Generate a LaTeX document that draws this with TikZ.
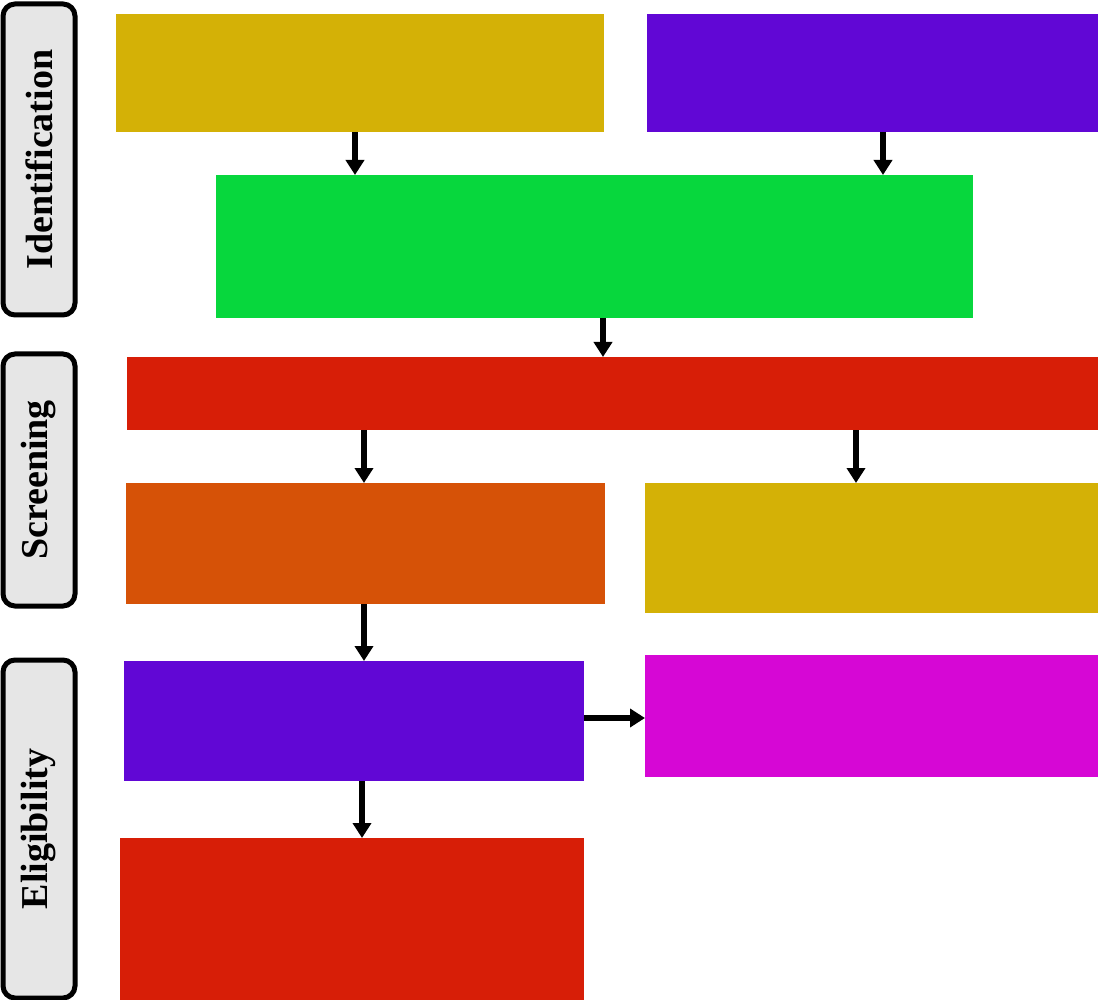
\documentclass[tikz,border=0pt]{standalone}
\usepackage{fontspec}
\setmainfont{Liberation Serif}
\usetikzlibrary{arrows.meta}
\definecolor{cyel}{HTML}{D4B106}
\definecolor{cpur}{HTML}{6107D5}
\definecolor{cgrn}{HTML}{07D73D}
\definecolor{cred}{HTML}{D71E07}
\definecolor{corg}{HTML}{D65207}
\definecolor{cmag}{HTML}{D607D5}
\definecolor{cgry}{HTML}{E6E6E6}
\tikzset{
  box/.style={anchor=north west, inner sep=0pt, outer sep=0pt, draw=none},
  phase/.style={anchor=north west, inner sep=0pt, outer sep=0pt, draw=black, line width=5pt, fill=cgry, rounded corners=12pt},
  phasetext/.style={rotate=90, font=\fontsize{38}{40}\selectfont\bfseries, inner sep=0pt},
  arr/.style={line width=5.5pt, -{Triangle[length=15pt,width=18pt]}}
}
\begin{document}
\begin{tikzpicture}[x=1pt,y=-1pt]
\useasboundingbox (0,0) rectangle (1098,1000);
% phase labels
\node[phase, minimum width=72pt, minimum height=311pt] (pid) at (3,4) {};
\node[phasetext] (tid) at (pid.center) {Identification};
\node[phase, minimum width=72pt, minimum height=252pt] (psc) at (3,354) {};
\node[phasetext] (tsc) at (psc.center) {Screening};
\node[phase, minimum width=72pt, minimum height=338pt] (pel) at (3,660) {};
\node[phasetext] (tel) at (pel.center) {Eligibility};
% boxes
\node[box, fill=cyel, minimum width=488pt, minimum height=118pt] (y1) at (116,14) {};
\node[box, fill=cpur, minimum width=451pt, minimum height=118pt] (p1) at (647,14) {};
\node[box, fill=cgrn, minimum width=757pt, minimum height=143pt] (g) at (216,175) {};
\node[box, fill=cred, minimum width=971pt, minimum height=73pt] (r1) at (127,357) {};
\node[box, fill=corg, minimum width=479pt, minimum height=121pt] (o) at (126,483) {};
\node[box, fill=cyel, minimum width=453pt, minimum height=130pt] (y2) at (645,483) {};
\node[box, fill=cpur, minimum width=460pt, minimum height=120pt] (p2) at (124,661) {};
\node[box, fill=cmag, minimum width=453pt, minimum height=122pt] (m) at (645,655) {};
\node[box, fill=cred, minimum width=464pt, minimum height=162pt] (r2) at (120,838) {};
% arrows
\draw[arr] ([xshift=-5pt]y1.south) -- ([xshift=-5pt]y1.south |- g.north);
\draw[arr] ([xshift=10.5pt]p1.south) -- ([xshift=10.5pt]p1.south |- g.north);
\draw[arr] ([xshift=8.5pt]g.south) -- ([xshift=8.5pt]g.south |- r1.north);
\draw[arr] ([xshift=-1.5pt]o.north |- r1.south) -- ([xshift=-1.5pt]o.north);
\draw[arr] ([xshift=-15.5pt]y2.north |- r1.south) -- ([xshift=-15.5pt]y2.north);
\draw[arr] ([xshift=-1.5pt]o.south) -- ([xshift=-1.5pt]o.south |- p2.north);
\draw[arr] ([xshift=8pt]p2.south) -- ([xshift=8pt]p2.south |- r2.north);
\draw[arr] ([yshift=3pt]p2.east) -- ([yshift=3pt]p2.east -| m.west);
\end{tikzpicture}
\end{document}
